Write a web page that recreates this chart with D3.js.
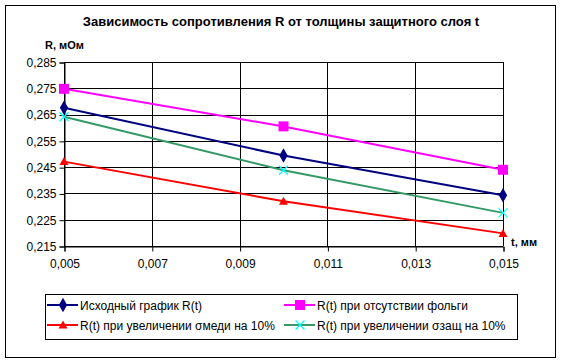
<!DOCTYPE html>
<html>
<head>
<meta charset="utf-8">
<script src="https://cdn.jsdelivr.net/npm/d3@7"></script>
<style>
  body { margin: 0; background: #fff; }
  svg { font-family: "Liberation Sans", Arial, sans-serif; }
</style>
</head>
<body>
<svg id="chart" width="562" height="363"></svg>
<script>
const tValues = [0.005, 0.01, 0.015];
const rBase = [0.2676, 0.2494, 0.2343];
const rNoFoil = [0.2748, 0.2605, 0.2440];
const rCopper = [0.2471, 0.2320, 0.2198];
const rProtect = [0.2642, 0.2438, 0.2276];
const xTicks = [0.005, 0.007, 0.009, 0.011, 0.013, 0.015];
const yTicks = [0.215, 0.225, 0.235, 0.245, 0.255, 0.265, 0.275, 0.285];

const seriesList = [
  { name: "Исходный график R(t)", values: rBase, line: "#000080", fill: "#000080", marker: "diamond" },
  { name: "R(t) при отсутствии фольги", values: rNoFoil, line: "#ff00ff", fill: "#ff00ff", marker: "square" },
  { name: "R(t) при увеличении σмеди на 10%", values: rCopper, line: "#ff0000", fill: "#ff0000", marker: "triangle" },
  { name: "R(t) при увеличении σзащ на 10%", values: rProtect, line: "#339966", fill: "#00ffff", marker: "cross" },
];

const svg = d3.select("#chart");
const fmt = d => d3.format(".3f")(d).replace(".", ",");

// outer frame
svg.append("rect").attr("x", 5.5).attr("y", 5.5).attr("width", 550).attr("height", 352)
  .attr("fill", "#fff").attr("stroke", "#000").attr("stroke-width", 1);

const plot = { left: 64, right: 503, top: 62, bottom: 246 };
const x = d3.scaleLinear().domain([0.005, 0.015]).range([plot.left, plot.right]);
const y = d3.scaleLinear().domain([0.215, 0.285]).range([plot.bottom, plot.top]);

// title
svg.append("text").attr("x", 281).attr("y", 26).attr("text-anchor", "middle")
  .attr("font-size", 13).attr("font-weight", "bold")
  .text("Зависимость сопротивления R от толщины защитного слоя t");

// grid
const g = svg.append("g");
g.selectAll("line.hgrid").data(yTicks).enter().append("line")
  .attr("x1", plot.left).attr("x2", plot.right)
  .attr("y1", d => Math.round(y(d)) + 0.5).attr("y2", d => Math.round(y(d)) + 0.5)
  .attr("stroke", "#000").attr("stroke-width", 1);
g.selectAll("line.vgrid").data(xTicks).enter().append("line")
  .attr("y1", plot.top).attr("y2", plot.bottom)
  .attr("x1", d => Math.round(x(d)) + 0.5).attr("x2", d => Math.round(x(d)) + 0.5)
  .attr("stroke", "#000").attr("stroke-width", 1);

// axes
const yAxis = d3.axisLeft(y).tickValues(yTicks).tickFormat(fmt).tickSize(5).tickPadding(3);
const yg = svg.append("g").attr("transform", `translate(${plot.left + 0.5},0.5)`).call(yAxis);
const xAxis = d3.axisBottom(x).tickValues(xTicks).tickFormat(fmt).tickSize(5).tickPadding(8);
const xg = svg.append("g").attr("transform", `translate(0.5,${plot.bottom + 0.5})`).call(xAxis);
[yg, xg].forEach(a => {
  a.select(".domain").attr("stroke", "#000");
  a.selectAll(".tick line").attr("stroke", "#000");
  a.selectAll("text").attr("font-size", 12).attr("fill", "#000")
    .attr("font-family", "'Liberation Sans', Arial, sans-serif");
});

svg.append("text").attr("x", 45).attr("y", 49).attr("font-size", 11).attr("font-weight", "bold").text("R, мОм");
svg.append("text").attr("x", 511).attr("y", 246).attr("font-size", 11).attr("font-weight", "bold").text("t, мм");

// markers
function drawMarker(sel, type, color, fill) {
  if (type === "diamond") {
    sel.append("path").attr("d", d3.symbol(d3.symbolDiamond, 60)()).attr("fill", fill).attr("stroke", "none");
  } else if (type === "square") {
    sel.append("rect").attr("x", -5).attr("y", -5).attr("width", 10).attr("height", 10).attr("fill", fill);
  } else if (type === "triangle") {
    sel.append("path").attr("d", "M0,-4.5L4.5,3.5L-4.5,3.5Z").attr("fill", fill);
  } else {
    sel.append("path").attr("d", "M-4.5,-4.5L4.5,4.5M-4.5,4.5L4.5,-4.5").attr("stroke", fill).attr("stroke-width", 1.3);
  }
}

const line = d3.line().x((d, i) => x(tValues[i])).y(d => y(d));
seriesList.forEach(s => {
  svg.append("path").datum(s.values).attr("d", line)
    .attr("fill", "none").attr("stroke", s.line).attr("stroke-width", 2);
  s.values.forEach((v, i) => {
    const m = svg.append("g").attr("transform", `translate(${x(tValues[i])},${y(v)})`);
    drawMarker(m, s.marker, s.line, s.fill);
  });
});

// legend
const lg = svg.append("g");
lg.append("rect").attr("x", 45.5).attr("y", 294.5).attr("width", 472).attr("height", 45)
  .attr("fill", "#fff").attr("stroke", "#000");
const legendPos = [[47, 305], [284, 305], [47, 325], [284, 325]];
seriesList.forEach((s, i) => {
  const [lx, ly] = legendPos[i];
  const item = lg.append("g").attr("transform", `translate(${lx},${ly})`);
  item.append("line").attr("x1", 0).attr("x2", 31).attr("y1", 0).attr("y2", 0)
    .attr("stroke", s.line).attr("stroke-width", 2);
  drawMarker(item.append("g").attr("transform", "translate(16,0)"), s.marker, s.line, s.fill);
  item.append("text").attr("x", 33).attr("y", 4.5).attr("font-size", 12).text(s.name);
});
</script>
</body>
</html>
